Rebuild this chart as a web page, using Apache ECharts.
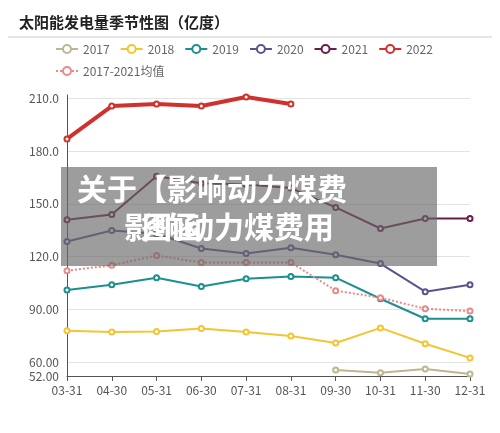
<!DOCTYPE html>
<html><head><meta charset="utf-8">
<script src="https://cdn.jsdelivr.net/npm/echarts@6/dist/echarts.min.js"></script>
<style>html,body{margin:0;padding:0;background:#fff}#c{width:500px;height:433px}</style>
</head><body><div id="c"></div>
<script>
const categories = ['03-31','04-30','05-31','06-30','07-31','08-31','09-30','10-31','11-30','12-31'];
const yTicks = [52,60,90,120,150,180,210];
const s2017 = [null,null,null,null,null,null,55.4,53.8,56.0,53.2];
const s2018 = [77.7,77.0,77.4,79.0,77.0,74.8,70.8,79.4,70.4,62.3];
const s2019 = [101,104,108,103,107.4,108.6,108,96,84.6,84.6];
const s2020 = [128.6,134.9,133,124.6,121.7,125,121,116,100,104];
const s2021 = [141,144,165.7,161.7,161,159,148,136,141.7,141.7];
const s2022 = [187,205.7,206.9,205.7,210.9,206.9,null,null,null,null];
const avg = [112,115,120.6,116.6,116.6,116.6,100.6,96.6,90.3,89];
const font = '"Noto Sans CJK SC","Noto Sans",sans-serif';
function ln(name, data, color, extra) {
  return Object.assign({name, type:'line', data, symbol:'emptyCircle', symbolSize:5,
    itemStyle:{color}, lineStyle:{color, width:2}}, extra||{});
}
const chart = echarts.init(document.getElementById('c'));
chart.setOption({
  animation:false,
  textStyle:{fontFamily:font},
  title:{text:'太阳能发电量季节性图（亿度）', left:14, top:10,
    textStyle:{fontSize:15, fontWeight:'bold', color:'#222', fontFamily:font}},
  legend:{left:50, top:38, width:420, itemWidth:22, itemHeight:10, itemGap:10,
    textStyle:{color:'#666', fontSize:12}},
  grid:{left:67, right:30, top:95, bottom:57},
  xAxis:{type:'category', data:categories, boundaryGap:false,
    axisLine:{lineStyle:{color:'#555'}}, axisTick:{show:true, alignWithLabel:true},
    axisLabel:{color:'#555', fontSize:12, interval:0}},
  yAxis:{type:'value', min:52, max:212,
    axisLine:{show:true, lineStyle:{color:'#555'}},
    axisTick:{show:false, customValues:yTicks},
    axisLabel:{color:'#555', fontSize:12, customValues:yTicks,
      formatter:v=> v<100 ? v.toFixed(2) : v.toFixed(1)},
    splitLine:{show:true, lineStyle:{color:'#e3e3e3'}}},
  graphic:[
    {type:'line', shape:{x1:8,y1:37,x2:492,y2:37}, style:{stroke:'#ccc', lineWidth:1}},
    {type:'rect', shape:{x:61,y:167,width:376,height:99}, style:{fill:'rgba(105,105,105,0.65)'}, z:100},
    {type:'text', left:77, top:174, style:{text:'关于【影响动力煤费', fill:'#fff', font:'bold 30px "Noto Sans CJK SC"'}, z:101},
    {type:'text', left:124, top:212, style:{text:'影响动力煤费用', fill:'#fff', font:'bold 30px "Noto Sans CJK SC"'}, z:101},
    {type:'text', left:142, top:212, style:{text:'图函', fill:'#fff', font:'bold 30px "Noto Sans CJK SC"'}, z:101}
  ],
  series:[
    ln('2017', s2017, '#bdb68e'),
    ln('2018', s2018, '#f2c531'),
    ln('2019', s2019, '#1d8f8f'),
    ln('2020', s2020, '#57558f'),
    ln('2021', s2021, '#6a1d4a'),
    ln('2022', s2022, '#d0312d', {lineStyle:{color:'#d0312d', width:4}}),
    ln('2017-2021均值', avg, '#e88a8a', {lineStyle:{color:'#e88a8a', width:2, type:'dotted'}})
  ]
});
</script></body></html>
